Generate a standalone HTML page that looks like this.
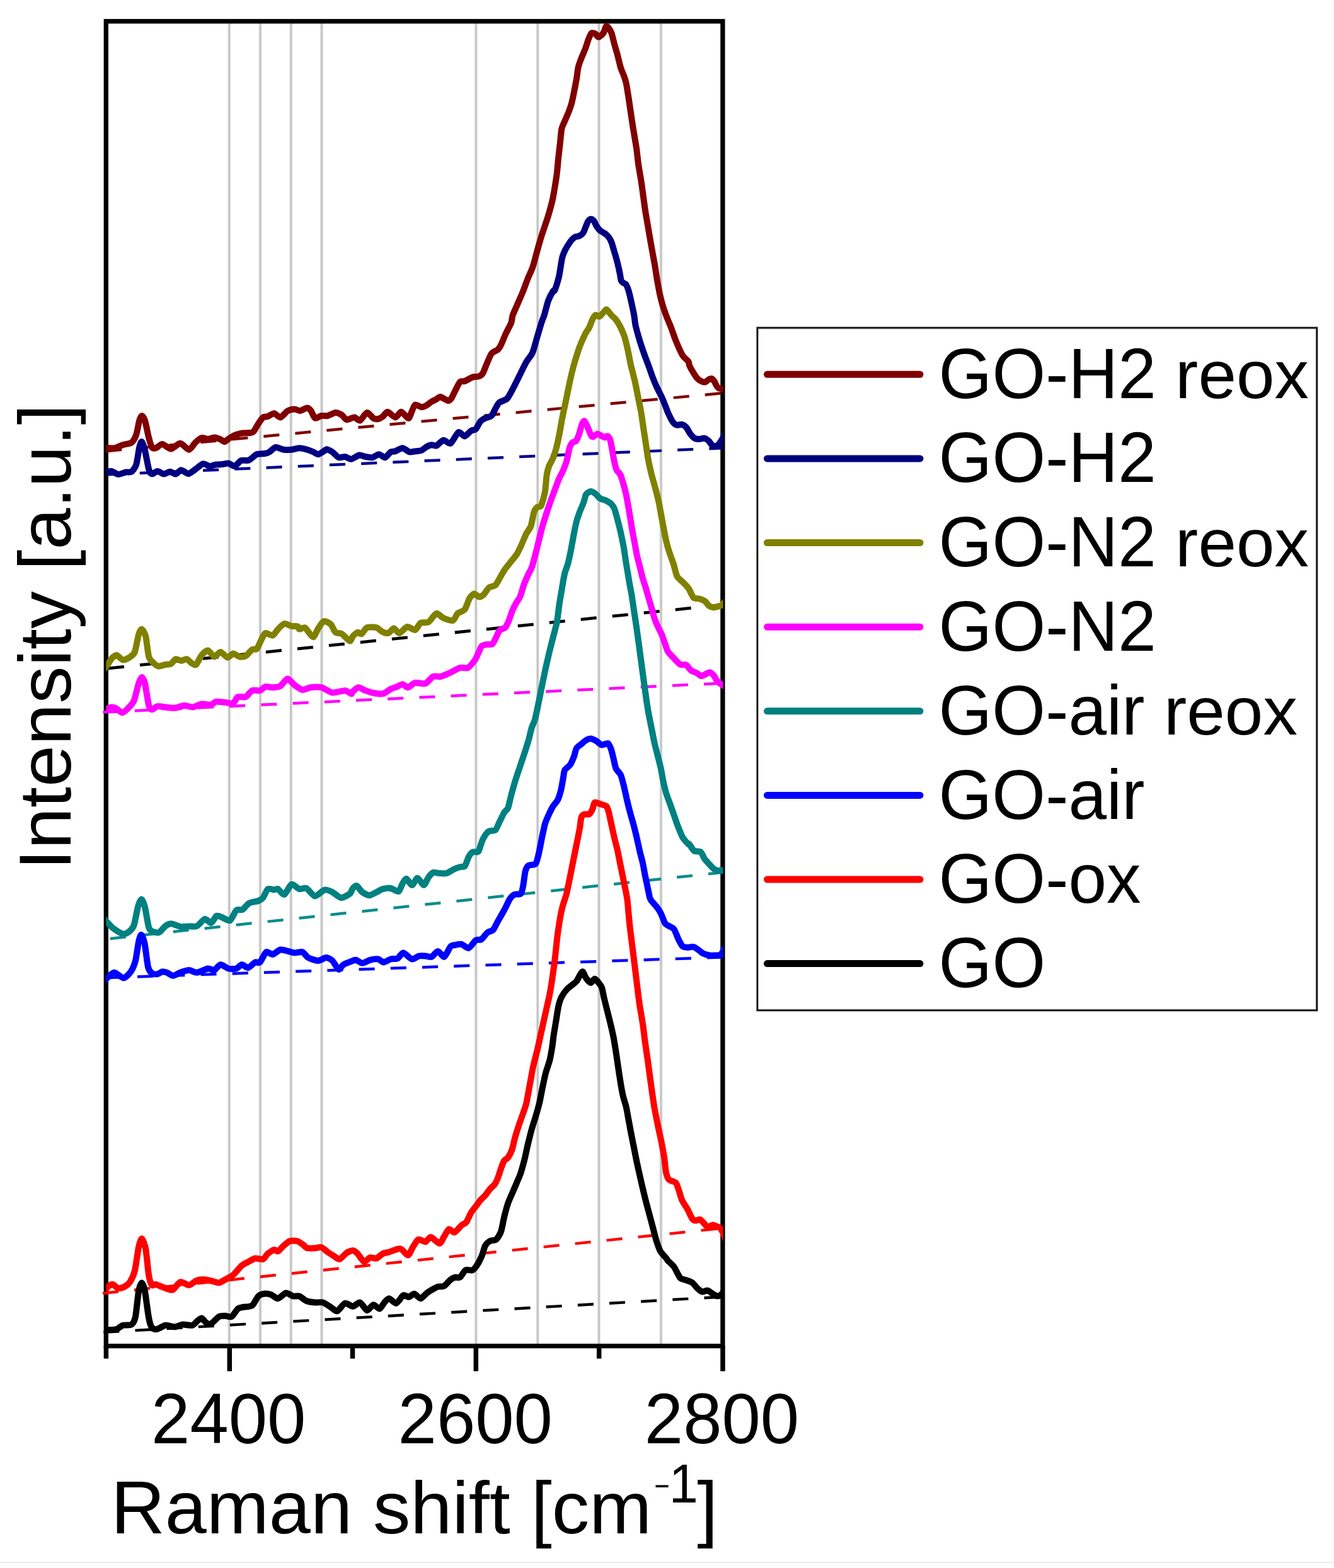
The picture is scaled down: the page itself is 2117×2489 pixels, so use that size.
<!DOCTYPE html>
<html lang="en"><head><meta charset="utf-8"><title>Raman spectra</title>
<style>html,body{margin:0;padding:0;background:#fff}svg{display:block}text{font-family:"Liberation Sans",sans-serif;fill:#000;font-kerning:none}</style></head>
<body>
<svg width="2117" height="2489" viewBox="0 0 2117 2489">
<rect width="2117" height="2489" fill="#fff"/>
<rect x="0" y="2479.4" width="2117" height="1.6" fill="#e9e9e9"/>
<g stroke="#e4e4e4" stroke-width="5" fill="none"><line x1="363.8" y1="33.8" x2="363.8" y2="2136.6"/><line x1="413" y1="33.8" x2="413" y2="2136.6"/><line x1="461.8" y1="33.8" x2="461.8" y2="2136.6"/><line x1="510.5" y1="33.8" x2="510.5" y2="2136.6"/><line x1="755.3" y1="33.8" x2="755.3" y2="2136.6"/><line x1="853.2" y1="33.8" x2="853.2" y2="2136.6"/><line x1="950.5" y1="33.8" x2="950.5" y2="2136.6"/><line x1="1049" y1="33.8" x2="1049" y2="2136.6"/></g>
<g stroke="#c2c2c2" stroke-width="2.6" fill="none"><line x1="363.8" y1="33.8" x2="363.8" y2="2136.6"/><line x1="413" y1="33.8" x2="413" y2="2136.6"/><line x1="461.8" y1="33.8" x2="461.8" y2="2136.6"/><line x1="510.5" y1="33.8" x2="510.5" y2="2136.6"/><line x1="755.3" y1="33.8" x2="755.3" y2="2136.6"/><line x1="853.2" y1="33.8" x2="853.2" y2="2136.6"/><line x1="950.5" y1="33.8" x2="950.5" y2="2136.6"/><line x1="1049" y1="33.8" x2="1049" y2="2136.6"/></g>
<rect x="168.3" y="33.8" width="978.6000000000001" height="2102.7999999999997" fill="none" stroke="#000" stroke-width="7.3"/>
<g stroke="#000" stroke-width="7.5" fill="none"><line x1="168.4" y1="2136.6" x2="168.4" y2="2156.6"/><line x1="364.3" y1="2136.6" x2="364.3" y2="2176.6"/><line x1="559.5" y1="2136.6" x2="559.5" y2="2156.6"/><line x1="755.3" y1="2136.6" x2="755.3" y2="2176.6"/><line x1="950.7" y1="2136.6" x2="950.7" y2="2156.6"/><line x1="1147" y1="2136.6" x2="1147" y2="2176.6"/></g>
<clipPath id="pc"><rect x="168.3" y="0" width="979.2" height="2200"/></clipPath>
<line x1="168.2" y1="716.2" x2="1147" y2="624" stroke="#800000" stroke-width="4.5" stroke-dasharray="25.1 25.15"/>
<path d="M160.0 711.2 C161.2 711.2 167.3 711.2 170.0 711.2 C172.7 711.2 179.5 711.8 182.5 711.2 C185.5 710.6 191.8 707.2 195.0 706.2 C198.2 705.2 206.3 704.4 208.8 702.5 C211.3 700.6 214.7 694.2 216.2 690.0 C217.7 685.8 220.1 671.1 221.2 667.5 C222.3 663.9 223.9 660.0 225.0 660.0 C226.1 660.0 228.7 663.3 230.0 667.5 C231.3 671.7 234.9 689.9 236.2 695.0 C237.5 700.1 239.8 708.1 241.2 710.0 C242.6 711.9 245.5 711.8 247.5 711.2 C249.5 710.6 254.7 704.8 257.5 705.0 C260.3 705.2 267.8 712.6 271.2 712.5 C274.6 712.4 282.7 703.6 286.2 703.8 C289.7 704.0 297.1 714.0 300.0 713.8 C302.9 713.6 307.6 704.8 310.0 702.5 C312.4 700.2 317.6 695.7 320.0 695.0 C322.4 694.3 327.5 697.1 330.0 697.0 C332.5 696.9 338.8 694.4 341.2 694.5 C343.6 694.6 348.2 696.7 350.0 697.5 C351.8 698.3 354.4 701.5 356.2 701.2 C358.0 700.9 362.7 696.3 365.0 695.0 C367.3 693.7 372.6 690.9 375.0 690.0 C377.4 689.1 382.3 687.9 385.0 687.5 C387.7 687.1 395.4 687.3 397.5 687.0 C399.6 686.7 401.0 686.7 402.5 685.0 C404.0 683.3 408.2 675.2 410.0 672.5 C411.8 669.8 415.7 663.9 417.5 662.5 C419.3 661.1 422.9 662.0 425.0 661.2 C427.1 660.4 432.6 656.0 435.0 656.2 C437.4 656.4 442.5 662.9 445.0 662.5 C447.5 662.1 453.5 654.1 456.2 652.5 C458.9 650.9 465.1 649.6 467.5 649.5 C469.9 649.4 473.8 652.2 476.2 652.0 C478.6 651.8 485.4 647.4 487.5 647.5 C489.6 647.6 492.3 650.5 493.8 652.5 C495.3 654.5 498.1 662.9 500.0 663.8 C501.9 664.7 507.6 660.5 510.0 660.0 C512.4 659.5 517.3 660.6 520.0 660.0 C522.7 659.4 529.8 655.1 532.5 655.0 C535.2 654.9 540.4 657.5 542.5 658.8 C544.6 660.1 547.6 665.8 550.0 666.2 C552.4 666.6 560.0 662.3 562.5 662.5 C565.0 662.7 568.8 668.4 571.2 667.5 C573.6 666.6 579.9 655.4 582.5 655.0 C585.1 654.6 590.4 662.6 592.5 663.8 C594.6 665.0 598.2 665.3 600.0 665.0 C601.8 664.7 605.7 662.5 607.5 661.2 C609.3 659.9 612.6 653.6 615.0 653.8 C617.4 654.0 625.0 662.5 627.5 662.5 C630.0 662.5 634.4 654.2 636.2 653.8 C638.0 653.4 641.0 657.6 642.5 658.8 C644.0 660.0 647.4 664.6 648.8 663.8 C650.2 663.0 652.6 655.1 653.8 652.5 C655.0 649.9 657.0 643.3 658.8 642.5 C660.6 641.7 666.7 646.0 668.8 646.2 C670.9 646.4 674.3 644.8 676.2 643.8 C678.1 642.8 683.0 638.7 685.0 637.5 C687.0 636.3 690.8 634.7 692.5 633.8 C694.2 632.9 696.6 629.7 698.8 630.0 C701.0 630.3 709.1 635.9 711.2 636.2 C713.3 636.5 714.8 634.4 716.2 632.5 C717.6 630.6 720.8 623.2 722.5 620.0 C724.2 616.8 728.2 608.0 730.0 606.2 C731.8 604.4 735.1 605.9 737.5 605.0 C739.9 604.1 747.3 599.7 750.0 598.8 C752.7 597.9 758.1 598.3 760.0 597.5 C761.9 596.7 764.7 594.9 766.2 592.5 C767.7 590.1 770.8 581.3 772.5 577.5 C774.2 573.7 777.9 563.9 780.0 561.2 C782.1 558.5 788.2 556.6 790.0 555.0 C791.8 553.4 793.5 550.5 795.0 547.5 C796.5 544.5 800.6 534.2 802.5 530.0 C804.4 525.8 809.8 516.1 811.2 512.5 C812.6 508.9 812.4 503.9 813.8 500.0 C815.2 496.1 820.6 484.5 822.5 480.0 C824.4 475.5 828.2 467.0 830.0 462.5 C831.8 458.0 835.7 447.0 837.5 442.5 C839.3 438.0 843.5 429.2 845.0 425.0 C846.5 420.8 848.7 412.3 850.0 407.5 C851.3 402.7 854.7 390.1 856.2 385.0 C857.7 379.9 860.8 370.1 862.5 365.0 C864.2 359.9 868.4 347.9 870.0 342.5 C871.6 337.1 875.0 325.1 876.2 320.0 C877.4 314.9 879.1 305.4 880.0 300.0 C880.9 294.6 883.1 281.0 883.8 275.0 C884.5 269.0 885.6 255.7 886.2 250.0 C886.8 244.3 888.2 232.9 888.8 227.5 C889.4 222.1 890.5 208.9 891.2 205.0 C891.9 201.1 893.6 198.3 895.0 195.0 C896.4 191.7 901.0 181.4 902.5 177.5 C904.0 173.6 906.5 166.4 907.5 162.5 C908.5 158.6 910.3 149.5 911.2 145.0 C912.1 140.5 914.2 129.5 915.0 125.0 C915.8 120.5 916.6 111.4 917.5 107.5 C918.4 103.6 921.1 96.1 922.5 92.5 C923.9 88.9 927.4 81.1 928.8 77.5 C930.2 73.9 932.6 65.5 933.8 62.5 C935.0 59.5 937.5 53.5 938.8 52.5 C940.1 51.5 943.7 53.0 945.0 53.8 C946.3 54.6 948.5 59.0 950.0 58.8 C951.5 58.6 956.0 54.6 957.5 52.5 C959.0 50.4 961.0 41.4 962.5 41.2 C964.0 41.0 968.5 47.7 970.0 51.2 C971.5 54.7 973.8 65.6 975.0 70.0 C976.2 74.4 978.8 83.0 980.0 87.5 C981.2 92.0 983.8 103.6 985.0 107.5 C986.2 111.4 988.9 117.0 990.0 120.0 C991.1 123.0 992.9 128.3 993.8 132.5 C994.7 136.7 996.6 149.3 997.5 155.0 C998.4 160.7 1000.3 174.0 1001.2 180.0 C1002.1 186.0 1003.9 198.4 1005.0 205.0 C1006.1 211.6 1009.0 228.4 1010.0 235.0 C1011.0 241.6 1012.1 253.7 1013.0 260.0 C1013.9 266.3 1016.5 281.2 1017.5 287.5 C1018.5 293.8 1020.2 306.5 1021.0 312.5 C1021.8 318.5 1023.5 331.2 1024.5 337.5 C1025.5 343.8 1028.1 358.4 1029.2 365.0 C1030.3 371.6 1032.8 385.9 1034.0 392.5 C1035.2 399.1 1037.9 413.7 1039.0 420.0 C1040.1 426.3 1042.0 439.3 1043.0 445.0 C1044.0 450.7 1046.1 462.4 1047.2 467.5 C1048.3 472.6 1051.1 483.0 1052.5 487.5 C1053.9 492.0 1057.3 501.1 1058.8 505.0 C1060.3 508.9 1063.5 516.1 1065.0 520.0 C1066.5 523.9 1069.7 533.6 1071.2 537.5 C1072.7 541.4 1076.0 549.2 1077.5 552.5 C1079.0 555.8 1082.0 562.4 1083.8 565.0 C1085.6 567.6 1091.3 572.0 1092.5 573.8 C1093.7 575.6 1093.2 578.0 1094.0 580.0 C1094.8 582.0 1098.0 587.8 1099.5 590.2 C1101.0 592.6 1104.7 598.6 1106.3 600.4 C1107.9 602.2 1111.6 604.5 1113.1 605.2 C1114.6 605.9 1117.8 606.8 1119.2 606.5 C1120.6 606.2 1123.4 603.0 1124.6 602.4 C1125.8 601.8 1128.3 600.8 1129.4 601.1 C1130.5 601.4 1132.6 603.9 1133.5 605.2 C1134.4 606.5 1136.1 610.7 1136.9 612.0 C1137.7 613.3 1139.2 615.5 1140.3 616.1 C1141.4 616.7 1144.9 617.1 1146.1 617.3 C1147.3 617.5 1150.0 618.0 1150.5 618.1" fill="none" stroke="#800000" stroke-width="10" stroke-linejoin="round" stroke-linecap="butt" clip-path="url(#pc)"/>
<line x1="171.5" y1="753.2" x2="1147" y2="711.2" stroke="#000090" stroke-width="4.5" stroke-dasharray="25.1 25.15"/>
<path d="M160.0 749.9 C161.2 749.8 167.9 749.0 170.0 748.8 C172.1 748.6 175.4 747.5 177.5 748.0 C179.6 748.5 184.8 752.8 187.5 753.0 C190.2 753.2 197.4 750.0 200.0 749.5 C202.6 749.0 206.9 750.2 208.8 748.8 C210.7 747.4 214.7 742.2 216.2 737.5 C217.7 732.8 220.1 714.4 221.2 710.0 C222.3 705.6 223.9 700.6 225.0 701.2 C226.1 701.8 228.7 709.7 230.0 715.0 C231.3 720.3 234.9 740.5 236.2 745.0 C237.5 749.5 239.5 752.1 241.2 752.5 C242.9 752.9 247.7 748.0 250.0 748.0 C252.3 748.0 257.6 752.4 260.0 752.5 C262.4 752.6 267.7 748.8 270.0 748.8 C272.3 748.8 276.7 752.8 278.8 752.5 C280.9 752.2 285.1 746.3 287.5 746.2 C289.9 746.1 296.1 752.1 298.8 752.0 C301.5 751.9 307.2 746.9 310.0 745.0 C312.8 743.1 319.8 736.8 322.5 736.2 C325.2 735.6 330.1 739.8 332.5 740.0 C334.9 740.2 340.1 737.9 342.5 737.5 C344.9 737.1 350.1 737.2 352.5 737.0 C354.9 736.8 360.1 735.1 362.5 735.5 C364.9 735.9 370.1 740.5 372.5 740.0 C374.9 739.5 379.8 732.3 382.5 731.2 C385.2 730.1 392.0 731.7 395.0 730.5 C398.0 729.3 404.5 722.5 407.5 721.2 C410.5 719.9 417.6 720.4 420.0 720.0 C422.4 719.6 425.4 718.7 427.5 717.5 C429.6 716.3 434.8 710.4 437.5 710.0 C440.2 709.6 447.0 713.3 450.0 713.8 C453.0 714.3 459.5 714.1 462.5 713.8 C465.5 713.5 472.0 711.2 475.0 711.2 C478.0 711.2 484.8 713.0 487.5 713.8 C490.2 714.6 495.4 716.6 497.5 717.5 C499.6 718.4 502.6 721.6 505.0 721.2 C507.4 720.8 515.7 714.7 517.5 713.8 C519.3 712.9 518.8 713.4 520.0 713.8 C521.2 714.2 525.4 716.0 527.5 717.5 C529.6 719.0 535.1 725.3 537.5 726.2 C539.9 727.1 545.1 724.7 547.5 725.0 C549.9 725.3 554.8 729.1 557.5 728.8 C560.2 728.5 567.3 723.0 570.0 722.5 C572.7 722.0 577.5 724.6 580.0 725.0 C582.5 725.4 588.7 726.7 591.2 726.2 C593.7 725.7 598.8 721.2 601.2 721.2 C603.6 721.2 608.9 726.6 611.2 726.2 C613.5 725.8 618.0 718.7 620.0 717.5 C622.0 716.3 625.2 717.0 627.5 716.2 C629.8 715.4 636.1 711.0 638.8 711.2 C641.5 711.4 647.5 716.9 650.0 717.5 C652.5 718.1 657.7 716.5 660.0 716.2 C662.3 715.9 666.7 715.9 668.8 715.0 C670.9 714.1 675.6 709.9 677.5 708.8 C679.4 707.7 683.2 706.4 685.0 706.2 C686.8 706.0 690.2 708.4 692.5 707.5 C694.8 706.6 701.1 699.2 703.8 698.8 C706.5 698.4 712.2 705.3 715.0 703.8 C717.8 702.3 724.8 687.6 727.5 686.2 C730.2 684.8 735.1 692.8 737.5 692.5 C739.9 692.2 745.4 685.2 747.5 683.8 C749.6 682.4 753.2 683.0 755.0 681.2 C756.8 679.4 760.7 670.9 762.5 668.8 C764.3 666.7 767.9 664.9 770.0 663.8 C772.1 662.7 777.9 662.1 780.0 660.0 C782.1 657.9 786.0 648.7 787.5 646.2 C789.0 643.7 790.4 640.4 792.5 638.8 C794.6 637.2 802.3 635.4 805.0 632.5 C807.7 629.6 812.6 619.5 815.0 615.0 C817.4 610.5 822.6 599.8 825.0 595.0 C827.4 590.2 832.6 579.2 835.0 575.0 C837.4 570.8 842.9 564.8 845.0 560.0 C847.1 555.2 850.7 541.0 852.5 535.0 C854.3 529.0 858.6 514.2 860.0 510.0 C861.4 505.8 862.6 503.9 863.8 500.0 C865.0 496.1 868.4 482.0 870.0 477.5 C871.6 473.0 876.3 464.4 877.5 462.5 C878.7 460.6 879.3 462.8 880.0 461.5 C880.7 460.2 882.7 454.3 883.6 451.5 C884.5 448.7 886.5 441.5 887.3 437.9 C888.1 434.3 889.4 425.3 890.0 421.6 C890.6 417.9 891.8 410.1 892.7 407.1 C893.6 404.1 896.0 398.6 897.2 396.2 C898.4 393.8 901.4 389.1 902.7 387.1 C904.0 385.1 906.9 381.2 908.1 379.9 C909.3 378.6 911.5 376.8 912.7 376.2 C913.9 375.6 916.9 375.3 918.1 374.9 C919.3 374.5 921.6 373.4 922.6 372.6 C923.6 371.8 925.4 369.7 926.3 368.1 C927.2 366.5 929.0 361.1 929.9 359.0 C930.8 356.9 932.5 352.2 933.5 350.8 C934.5 349.4 936.9 347.7 938.0 347.7 C939.1 347.7 941.6 349.6 942.6 350.8 C943.6 352.0 945.1 356.3 946.2 358.1 C947.3 359.9 950.4 364.1 951.7 365.4 C953.0 366.7 955.8 368.1 957.1 369.0 C958.4 369.9 961.3 371.5 962.5 372.6 C963.7 373.7 966.1 376.5 967.1 378.0 C968.1 379.5 969.9 383.3 970.7 385.3 C971.5 387.3 972.8 392.2 973.4 394.4 C974.0 396.6 975.4 401.1 976.1 403.4 C976.8 405.7 978.2 410.9 978.9 413.4 C979.6 415.9 981.0 421.7 981.6 424.3 C982.2 426.9 983.4 432.7 983.9 435.2 C984.4 437.7 985.1 443.6 985.7 445.2 C986.3 446.8 987.9 448.0 988.8 448.8 C989.7 449.6 992.4 450.2 993.4 451.5 C994.4 452.8 996.2 457.5 997.0 459.7 C997.8 461.9 999.1 467.3 999.7 469.7 C1000.3 472.1 1001.2 476.4 1002.0 480.0 C1002.8 483.6 1005.4 495.5 1006.2 500.0 C1007.0 504.5 1007.7 512.7 1008.8 517.5 C1009.9 522.3 1013.4 534.6 1015.0 540.0 C1016.6 545.4 1020.7 557.4 1022.5 562.5 C1024.3 567.6 1028.4 578.0 1030.0 582.5 C1031.6 587.0 1034.7 596.1 1036.2 600.0 C1037.7 603.9 1040.8 611.4 1042.5 615.0 C1044.2 618.6 1048.4 626.4 1050.0 630.0 C1051.6 633.6 1055.0 642.0 1056.2 645.0 C1057.4 648.0 1058.7 652.0 1060.0 654.8 C1061.3 657.6 1065.2 666.0 1066.8 668.4 C1068.4 670.8 1071.7 673.9 1073.6 674.6 C1075.5 675.3 1080.5 673.4 1082.4 673.9 C1084.3 674.4 1087.7 676.8 1089.3 678.6 C1090.9 680.4 1093.9 686.8 1095.4 688.8 C1096.9 690.8 1100.5 694.6 1102.2 695.6 C1103.9 696.6 1107.8 697.0 1109.7 697.0 C1111.6 697.0 1116.0 695.3 1117.8 695.6 C1119.6 695.9 1123.2 698.5 1124.6 699.7 C1126.0 700.9 1128.2 704.8 1129.4 705.9 C1130.6 707.0 1133.6 708.5 1134.8 708.6 C1136.0 708.7 1138.6 707.3 1139.6 706.5 C1140.6 705.7 1142.2 702.9 1143.0 701.8 C1143.8 700.7 1145.3 698.9 1146.1 697.3 C1146.9 695.7 1149.4 689.8 1149.8 688.8" fill="none" stroke="#000080" stroke-width="10" stroke-linejoin="round" stroke-linecap="butt" clip-path="url(#pc)"/>
<line x1="172" y1="1060.9" x2="1147" y2="960" stroke="#000000" stroke-width="4.8" stroke-dasharray="25.1 25.15"/>
<path d="M160.0 1068.2 C161.2 1066.8 167.9 1059.0 170.0 1056.2 C172.1 1053.4 175.7 1046.9 177.5 1045.0 C179.3 1043.1 182.9 1039.7 185.0 1040.0 C187.1 1040.3 192.6 1047.0 195.0 1047.5 C197.4 1048.0 202.7 1045.3 205.0 1043.8 C207.3 1042.3 212.0 1039.4 213.8 1035.0 C215.6 1030.6 218.7 1011.8 220.0 1007.5 C221.3 1003.2 223.7 998.5 225.0 998.8 C226.3 999.1 229.9 1004.8 231.2 1010.0 C232.5 1015.2 234.8 1037.6 236.2 1042.5 C237.6 1047.4 240.7 1049.4 242.5 1051.2 C244.3 1053.0 248.8 1057.0 251.2 1057.5 C253.6 1058.0 260.1 1055.4 262.5 1055.0 C264.9 1054.6 269.2 1054.9 271.2 1053.8 C273.2 1052.7 276.8 1046.8 278.8 1046.2 C280.8 1045.6 285.4 1048.8 287.5 1048.8 C289.6 1048.8 294.2 1045.8 296.2 1046.2 C298.2 1046.6 302.0 1051.4 303.8 1052.5 C305.6 1053.6 309.3 1056.5 311.2 1055.0 C313.1 1053.5 317.7 1042.7 320.0 1040.0 C322.3 1037.3 327.6 1032.2 330.0 1032.5 C332.4 1032.8 337.6 1042.2 340.0 1042.5 C342.4 1042.8 347.5 1034.8 350.0 1035.0 C352.5 1035.2 358.8 1043.5 361.2 1043.8 C363.6 1044.1 367.7 1037.7 370.0 1037.5 C372.3 1037.3 377.6 1042.1 380.0 1042.5 C382.4 1042.9 387.6 1042.6 390.0 1041.2 C392.4 1039.8 397.9 1032.5 400.0 1031.2 C402.1 1029.9 405.7 1031.9 407.5 1030.0 C409.3 1028.1 413.4 1018.0 415.0 1015.0 C416.6 1012.0 419.1 1005.7 421.2 1005.0 C423.3 1004.3 430.1 1009.5 432.5 1008.8 C434.9 1008.1 439.0 1001.1 441.2 998.8 C443.4 996.5 448.6 990.6 451.2 990.0 C453.8 989.4 459.9 993.3 462.5 993.8 C465.1 994.3 471.0 993.9 472.5 994.5 C474.0 995.1 473.6 998.6 475.0 998.8 C476.4 999.0 482.0 995.6 483.8 996.2 C485.6 996.8 488.4 1002.0 490.0 1003.8 C491.6 1005.6 495.7 1012.0 497.5 1011.2 C499.3 1010.4 503.0 1000.5 505.0 997.5 C507.0 994.5 511.4 987.0 513.8 986.2 C516.2 985.4 522.8 989.1 525.0 991.2 C527.2 993.3 530.4 1002.0 532.5 1003.8 C534.6 1005.6 539.8 1004.6 542.5 1006.2 C545.2 1007.8 552.9 1017.0 555.0 1017.5 C557.1 1018.0 558.5 1011.6 560.0 1010.0 C561.5 1008.4 565.8 1004.3 567.5 1003.8 C569.2 1003.3 572.0 1007.1 573.8 1006.2 C575.6 1005.3 579.7 997.4 582.5 996.2 C585.3 995.0 594.7 995.4 597.5 996.2 C600.3 997.0 604.0 1001.4 606.2 1002.5 C608.4 1003.6 613.9 1005.6 616.2 1005.0 C618.5 1004.4 622.9 997.5 625.0 997.5 C627.1 997.5 631.3 1005.3 633.8 1005.0 C636.3 1004.7 643.2 995.6 646.2 995.0 C649.2 994.4 656.2 1000.7 658.8 1000.0 C661.4 999.3 665.0 990.3 667.5 988.8 C670.0 987.3 677.0 989.3 680.0 987.5 C683.0 985.7 689.6 974.6 692.5 973.8 C695.4 973.0 700.6 979.9 703.8 981.2 C707.0 982.5 716.1 985.9 718.8 985.0 C721.5 984.1 724.0 975.9 726.2 973.8 C728.4 971.7 735.2 970.4 737.5 967.5 C739.8 964.6 743.2 953.0 745.0 950.0 C746.8 947.0 750.7 942.8 752.5 942.5 C754.3 942.2 758.2 947.3 760.0 947.5 C761.8 947.7 765.6 945.6 767.5 943.8 C769.4 942.0 774.0 934.3 776.2 932.5 C778.4 930.7 784.1 930.8 786.2 928.8 C788.3 926.8 792.0 919.2 793.8 916.2 C795.6 913.2 799.3 906.6 801.2 903.8 C803.1 901.0 807.7 895.4 810.0 892.5 C812.3 889.6 817.9 883.3 820.0 880.0 C822.1 876.7 825.7 868.9 827.5 865.0 C829.3 861.1 833.2 851.1 835.0 847.5 C836.8 843.9 841.0 839.2 842.5 835.0 C844.0 830.8 846.3 816.1 847.5 812.5 C848.7 808.9 851.1 806.2 852.5 805.0 C853.9 803.8 857.3 805.5 858.8 802.5 C860.3 799.5 864.0 785.7 865.0 780.0 C866.0 774.3 866.8 759.8 867.5 755.0 C868.2 750.2 870.0 743.3 871.2 740.0 C872.4 736.7 876.1 730.8 877.5 727.5 C878.9 724.2 881.3 717.0 882.5 712.5 C883.7 708.0 886.3 696.0 887.5 690.0 C888.7 684.0 891.1 669.4 892.5 662.5 C893.9 655.6 897.3 639.7 898.8 632.5 C900.3 625.3 903.5 609.1 905.0 602.5 C906.5 595.9 909.4 583.8 911.2 577.5 C913.0 571.2 917.9 555.7 920.0 550.0 C922.1 544.3 927.0 533.6 928.8 530.0 C930.6 526.4 933.7 522.7 935.0 520.0 C936.3 517.3 938.8 509.9 940.0 507.5 C941.2 505.1 943.7 500.6 945.0 500.0 C946.3 499.4 949.7 503.0 951.2 502.5 C952.7 502.0 956.1 497.6 957.5 496.2 C958.9 494.8 961.0 490.7 962.5 491.2 C964.0 491.7 968.2 498.0 970.0 500.0 C971.8 502.0 975.7 505.1 977.5 507.5 C979.3 509.9 983.4 516.7 985.0 520.0 C986.6 523.3 989.9 530.8 991.2 535.0 C992.5 539.2 995.0 549.6 996.2 555.0 C997.4 560.4 999.8 574.0 1001.2 580.0 C1002.6 586.0 1006.1 599.0 1007.5 605.0 C1008.9 611.0 1011.3 624.0 1012.5 630.0 C1013.7 636.0 1016.5 649.0 1017.5 655.0 C1018.5 661.0 1020.3 674.0 1021.2 680.0 C1022.1 686.0 1024.1 699.0 1025.0 705.0 C1025.9 711.0 1027.7 724.3 1028.8 730.0 C1029.9 735.7 1032.5 747.1 1033.8 752.5 C1035.1 757.9 1038.7 769.9 1040.0 775.0 C1041.3 780.1 1043.9 790.2 1045.0 795.0 C1046.1 799.8 1047.9 810.2 1048.8 815.0 C1049.7 819.8 1051.5 829.6 1052.5 835.0 C1053.5 840.4 1056.3 854.9 1057.5 860.0 C1058.7 865.1 1061.1 873.3 1062.5 877.5 C1063.9 881.7 1067.4 890.5 1068.8 895.0 C1070.2 899.5 1072.7 911.3 1074.5 914.8 C1076.3 918.3 1081.9 922.2 1084.1 924.5 C1086.3 926.8 1090.8 931.2 1092.8 934.1 C1094.8 937.0 1098.4 946.6 1100.5 948.6 C1102.6 950.6 1107.9 949.8 1110.1 950.5 C1112.3 951.2 1116.9 953.0 1118.8 954.4 C1120.7 955.8 1124.0 960.9 1125.6 962.1 C1127.2 963.3 1130.7 964.1 1132.3 964.2 C1133.9 964.3 1137.7 963.1 1139.1 962.8 C1140.5 962.5 1142.9 961.8 1143.9 961.3 C1144.9 960.8 1146.3 959.8 1147.3 958.7 C1148.3 957.6 1152.0 953.2 1152.6 952.4" fill="none" stroke="#808000" stroke-width="10" stroke-linejoin="round" stroke-linecap="butt" clip-path="url(#pc)"/>
<line x1="163.4" y1="1130.6" x2="1147" y2="1084.5" stroke="#ff00ff" stroke-width="4.5" stroke-dasharray="25.1 25.15"/>
<path d="M160.0 1128.8 C160.6 1128.6 162.9 1127.8 165.0 1127.0 C167.1 1126.2 175.1 1122.7 177.5 1122.5 C179.9 1122.3 183.0 1124.0 185.0 1125.0 C187.0 1126.0 191.7 1131.2 193.8 1131.2 C195.9 1131.2 200.3 1127.2 202.5 1125.0 C204.7 1122.8 210.4 1117.3 212.5 1112.5 C214.6 1107.7 218.5 1089.5 220.0 1085.0 C221.5 1080.5 223.8 1075.0 225.0 1075.0 C226.2 1075.0 228.7 1079.6 230.0 1085.0 C231.3 1090.4 234.9 1115.1 236.2 1120.0 C237.5 1124.9 239.5 1126.1 241.2 1126.2 C242.9 1126.3 247.4 1121.6 250.0 1121.2 C252.6 1120.8 259.2 1122.2 262.5 1122.5 C265.8 1122.8 273.9 1124.1 277.5 1123.8 C281.1 1123.5 289.1 1120.2 292.5 1120.0 C295.9 1119.8 302.9 1122.8 306.2 1122.5 C309.5 1122.2 316.5 1117.9 320.0 1117.5 C323.5 1117.1 332.3 1119.2 335.0 1118.8 C337.7 1118.4 339.8 1114.3 342.5 1113.8 C345.2 1113.3 354.2 1114.7 357.5 1115.0 C360.8 1115.3 367.6 1117.3 370.0 1116.2 C372.4 1115.1 375.1 1107.4 377.5 1106.2 C379.9 1105.0 387.3 1107.4 390.0 1106.2 C392.7 1105.0 397.3 1097.4 400.0 1096.2 C402.7 1095.0 410.0 1096.9 412.5 1096.2 C415.0 1095.5 418.8 1090.6 421.2 1090.0 C423.6 1089.4 429.6 1091.3 432.5 1091.2 C435.4 1091.1 442.2 1090.4 445.0 1088.8 C447.8 1087.2 453.5 1077.7 456.2 1077.5 C458.9 1077.3 464.6 1085.4 467.5 1087.5 C470.4 1089.6 477.0 1094.6 480.0 1095.0 C483.0 1095.4 488.9 1091.7 492.5 1091.2 C496.1 1090.7 505.8 1090.2 510.0 1091.2 C514.2 1092.2 523.0 1098.9 527.5 1099.5 C532.0 1100.1 543.9 1096.0 547.5 1096.2 C551.1 1096.4 556.0 1101.0 557.5 1101.2 C559.0 1101.4 558.6 1098.7 560.0 1097.5 C561.4 1096.3 566.4 1091.4 568.8 1091.2 C571.2 1091.0 577.2 1095.1 580.0 1096.2 C582.8 1097.3 589.2 1099.4 592.5 1100.0 C595.8 1100.6 604.2 1101.9 607.5 1101.2 C610.8 1100.5 617.3 1095.1 620.0 1093.8 C622.7 1092.5 627.7 1090.9 630.0 1090.0 C632.3 1089.1 636.7 1086.1 638.8 1086.2 C640.9 1086.3 645.1 1091.5 647.5 1091.2 C649.9 1090.9 655.5 1084.5 658.8 1083.8 C662.1 1083.1 671.6 1086.2 675.0 1085.0 C678.4 1083.8 684.5 1075.1 687.5 1073.8 C690.5 1072.5 696.7 1074.6 700.0 1073.8 C703.3 1073.0 711.4 1069.2 715.0 1067.5 C718.6 1065.8 726.7 1060.9 730.0 1060.0 C733.3 1059.1 739.6 1061.5 742.5 1060.0 C745.4 1058.5 751.7 1050.5 753.8 1047.5 C755.9 1044.5 758.7 1037.2 760.0 1034.6 C761.3 1032.0 763.1 1026.9 764.5 1025.5 C765.9 1024.1 769.3 1023.6 771.3 1023.2 C773.3 1022.8 779.6 1023.5 781.5 1022.1 C783.4 1020.7 785.8 1014.5 787.2 1011.9 C788.6 1009.3 791.1 1002.4 792.9 1000.5 C794.7 998.6 800.2 997.9 802.0 996.0 C803.8 994.1 806.2 988.0 807.6 984.7 C809.0 981.4 811.9 972.1 813.3 968.8 C814.7 965.5 817.5 960.2 819.0 957.5 C820.5 954.8 824.3 949.6 825.8 946.1 C827.3 942.6 829.9 932.1 831.4 928.0 C832.9 923.9 836.7 915.4 838.2 912.1 C839.7 908.8 842.5 904.6 843.9 900.8 C845.3 897.0 848.2 885.6 849.6 880.4 C851.0 875.2 853.8 863.1 855.2 857.7 C856.6 852.3 859.5 839.9 860.9 835.0 C862.3 830.1 865.1 821.5 866.6 816.9 C868.1 812.3 871.8 801.1 873.4 796.5 C875.0 791.9 878.6 782.7 880.2 778.3 C881.8 773.9 885.4 764.0 887.0 760.2 C888.6 756.4 892.3 750.1 893.8 746.6 C895.3 743.1 898.3 735.1 899.5 730.7 C900.7 726.3 902.9 713.7 904.0 710.3 C905.1 706.9 907.3 703.6 908.5 702.4 C909.7 701.2 913.0 701.6 914.2 700.1 C915.4 698.6 917.6 693.0 918.7 689.9 C919.8 686.8 922.3 676.6 923.3 674.0 C924.3 671.4 926.2 667.9 927.3 668.3 C928.4 668.7 931.0 674.7 932.3 677.4 C933.6 680.1 936.9 689.1 938.0 691.0 C939.1 692.9 940.2 693.6 941.4 693.3 C942.6 693.0 946.6 688.9 948.2 688.8 C949.8 688.7 953.6 691.5 955.0 692.2 C956.4 692.9 958.4 694.4 959.5 694.4 C960.6 694.4 963.0 691.6 964.1 692.2 C965.2 692.8 967.7 696.0 968.6 699.0 C969.5 702.0 971.2 712.8 972.0 717.1 C972.8 721.4 974.6 731.7 975.4 735.2 C976.2 738.7 977.7 744.4 978.8 746.6 C979.9 748.8 983.3 751.0 984.5 753.4 C985.7 755.8 987.9 763.2 989.0 767.0 C990.1 770.8 992.6 780.7 993.6 785.1 C994.6 789.5 996.2 798.7 997.0 803.3 C997.8 807.9 999.6 818.8 1000.4 823.7 C1001.2 828.6 1003.0 839.5 1003.8 844.1 C1004.6 848.7 1006.4 857.8 1007.2 862.2 C1008.0 866.6 1009.7 876.0 1010.6 880.4 C1011.5 884.8 1014.0 894.2 1015.1 898.5 C1016.2 902.8 1018.4 912.2 1019.6 916.6 C1020.8 921.0 1024.1 930.7 1025.3 934.8 C1026.5 938.9 1028.7 946.9 1029.8 950.7 C1030.9 954.5 1033.3 962.7 1034.4 966.5 C1035.5 970.3 1037.7 978.9 1038.9 982.4 C1040.1 985.9 1043.2 993.0 1044.6 996.0 C1046.0 999.0 1048.8 1004.0 1050.2 1007.3 C1051.6 1010.6 1054.7 1019.9 1055.9 1023.2 C1057.1 1026.5 1058.4 1031.8 1060.0 1034.4 C1061.6 1037.0 1067.3 1042.6 1069.6 1045.0 C1071.9 1047.4 1077.0 1053.3 1079.3 1054.6 C1081.6 1055.9 1086.8 1054.4 1088.9 1055.6 C1091.0 1056.8 1094.6 1062.8 1096.6 1064.3 C1098.6 1065.8 1103.3 1067.1 1105.3 1068.1 C1107.3 1069.1 1111.3 1072.8 1113.0 1073.0 C1114.7 1073.2 1118.2 1070.8 1119.8 1070.1 C1121.4 1069.4 1124.9 1066.9 1126.5 1067.2 C1128.1 1067.5 1132.0 1071.5 1133.3 1073.0 C1134.6 1074.5 1136.1 1078.3 1137.1 1079.7 C1138.1 1081.1 1140.8 1083.6 1142.0 1084.5 C1143.2 1085.4 1145.5 1086.6 1146.8 1087.4 C1148.1 1088.2 1151.9 1090.8 1152.6 1091.3" fill="none" stroke="#ff00ff" stroke-width="10" stroke-linejoin="round" stroke-linecap="butt" clip-path="url(#pc)"/>
<line x1="174.8" y1="1489.9" x2="1147" y2="1384.7" stroke="#0a8c8c" stroke-width="4.5" stroke-dasharray="25.1 25.15"/>
<path d="M160.0 1453.8 C161.2 1455.0 167.6 1461.4 170.0 1463.8 C172.4 1466.2 177.0 1471.6 180.0 1473.8 C183.0 1476.0 192.0 1481.9 195.0 1482.5 C198.0 1483.1 202.9 1480.4 205.0 1478.8 C207.1 1477.2 210.8 1473.5 212.5 1468.8 C214.2 1464.1 217.4 1445.0 218.8 1440.0 C220.2 1435.0 223.2 1427.5 224.5 1427.5 C225.8 1427.5 228.6 1434.6 230.0 1440.0 C231.4 1445.4 234.7 1467.8 236.2 1472.5 C237.7 1477.2 240.5 1477.9 242.5 1478.8 C244.5 1479.7 250.1 1481.1 252.5 1480.0 C254.9 1478.9 260.3 1471.7 262.5 1470.0 C264.7 1468.3 269.1 1466.3 271.2 1466.2 C273.3 1466.1 278.0 1468.2 280.0 1468.8 C282.0 1469.4 285.1 1471.0 287.5 1471.2 C289.9 1471.4 297.0 1470.6 300.0 1470.5 C303.0 1470.4 309.5 1471.4 312.5 1470.0 C315.5 1468.6 322.3 1459.4 325.0 1458.8 C327.7 1458.2 332.7 1465.6 335.0 1465.0 C337.3 1464.4 341.7 1454.9 343.8 1453.8 C345.9 1452.7 350.0 1455.3 352.5 1456.2 C355.0 1457.1 362.3 1462.5 365.0 1461.2 C367.7 1459.9 372.6 1447.1 375.0 1445.0 C377.4 1442.9 382.6 1445.1 385.0 1443.8 C387.4 1442.5 392.0 1435.5 395.0 1433.8 C398.0 1432.1 407.3 1431.1 410.0 1430.0 C412.7 1428.9 415.7 1427.3 417.5 1425.0 C419.3 1422.7 422.9 1412.7 425.0 1411.2 C427.1 1409.7 433.1 1412.5 435.0 1412.5 C436.9 1412.5 439.3 1410.3 441.2 1411.2 C443.1 1412.1 448.6 1420.9 451.2 1420.0 C453.8 1419.1 459.6 1404.9 462.5 1403.8 C465.4 1402.7 472.2 1410.5 475.0 1411.2 C477.8 1411.9 483.2 1408.6 486.2 1410.0 C489.2 1411.4 496.5 1422.2 500.0 1422.5 C503.5 1422.8 511.7 1413.3 515.0 1412.5 C518.3 1411.7 524.4 1414.7 527.5 1416.2 C530.6 1417.7 537.9 1424.7 541.2 1425.0 C544.5 1425.3 552.7 1420.6 555.0 1418.8 C557.3 1417.0 558.7 1411.5 560.0 1410.0 C561.3 1408.5 564.4 1405.5 566.2 1406.2 C568.0 1406.9 572.6 1414.4 575.0 1416.2 C577.4 1418.0 583.5 1421.2 586.2 1421.2 C588.9 1421.2 594.9 1417.4 597.5 1416.2 C600.1 1415.0 604.8 1411.9 607.5 1411.2 C610.2 1410.5 617.0 1409.5 620.0 1410.0 C623.0 1410.5 630.2 1415.9 632.5 1415.0 C634.8 1414.1 637.3 1404.9 638.8 1402.5 C640.3 1400.1 643.2 1394.7 645.0 1395.0 C646.8 1395.3 651.7 1405.1 653.8 1405.0 C655.9 1404.9 660.3 1393.8 662.5 1393.8 C664.7 1393.8 670.4 1405.2 672.5 1405.0 C674.6 1404.8 678.2 1394.9 680.0 1392.5 C681.8 1390.1 685.4 1385.8 687.5 1385.0 C689.6 1384.2 694.9 1386.1 697.5 1386.2 C700.1 1386.3 706.1 1386.9 708.8 1386.2 C711.5 1385.5 717.5 1381.2 720.0 1380.0 C722.5 1378.8 727.9 1376.8 730.0 1376.2 C732.1 1375.6 735.8 1376.9 737.5 1375.0 C739.2 1373.1 742.3 1362.7 743.8 1360.0 C745.3 1357.3 748.4 1353.4 750.0 1352.5 C751.6 1351.6 756.3 1352.8 757.5 1352.5 C758.7 1352.2 759.0 1352.4 760.0 1350.0 C761.0 1347.6 764.4 1336.1 766.2 1332.5 C768.0 1328.9 772.6 1321.8 775.0 1320.0 C777.4 1318.2 784.1 1319.3 786.2 1317.5 C788.3 1315.7 790.8 1308.3 792.5 1305.0 C794.2 1301.7 798.4 1292.7 800.0 1290.0 C801.6 1287.3 804.9 1285.8 806.2 1282.5 C807.5 1279.2 809.8 1267.6 811.2 1262.5 C812.6 1257.4 815.8 1245.4 817.5 1240.0 C819.2 1234.6 823.2 1222.9 825.0 1217.5 C826.8 1212.1 830.8 1200.1 832.5 1195.0 C834.2 1189.9 837.4 1179.8 838.8 1175.0 C840.2 1170.2 842.6 1158.9 843.8 1155.0 C845.0 1151.1 847.6 1146.7 848.8 1142.5 C850.0 1138.3 852.6 1125.7 853.8 1120.0 C855.0 1114.3 857.5 1101.6 858.8 1095.0 C860.1 1088.4 863.5 1071.9 865.0 1065.0 C866.5 1058.1 869.7 1043.8 871.2 1037.5 C872.7 1031.2 876.0 1018.5 877.5 1012.5 C879.0 1006.5 882.6 993.8 883.8 987.5 C885.0 981.2 886.5 966.9 887.5 960.0 C888.5 953.1 891.5 936.0 892.5 930.0 C893.5 924.0 895.2 914.2 896.2 910.0 C897.2 905.8 900.0 899.5 901.2 895.0 C902.4 890.5 905.0 878.5 906.2 872.5 C907.4 866.5 910.1 850.4 911.2 845.0 C912.3 839.6 913.9 831.4 915.0 827.5 C916.1 823.6 918.7 816.1 920.0 812.5 C921.3 808.9 925.0 800.8 926.2 797.5 C927.4 794.2 928.6 787.1 930.0 785.0 C931.4 782.9 935.7 780.1 937.5 780.0 C939.3 779.9 943.2 782.5 945.0 783.8 C946.8 785.1 950.4 789.9 952.5 791.2 C954.6 792.5 960.4 793.9 962.5 795.0 C964.6 796.1 968.5 798.5 970.0 800.0 C971.5 801.5 973.8 804.5 975.0 807.5 C976.2 810.5 978.8 820.5 980.0 825.0 C981.2 829.5 983.8 839.6 985.0 845.0 C986.2 850.4 988.9 864.0 990.0 870.0 C991.1 876.0 992.7 888.4 993.8 895.0 C994.9 901.6 997.8 919.0 998.8 925.0 C999.8 931.0 1001.6 939.6 1002.5 945.0 C1003.4 950.4 1005.3 964.0 1006.2 970.0 C1007.1 976.0 1009.1 988.7 1010.0 995.0 C1010.9 1001.3 1012.9 1015.9 1013.8 1022.5 C1014.7 1029.1 1016.6 1043.4 1017.5 1050.0 C1018.4 1056.6 1020.3 1070.9 1021.2 1077.5 C1022.1 1084.1 1024.1 1098.7 1025.0 1105.0 C1025.9 1111.3 1027.7 1124.0 1028.8 1130.0 C1029.9 1136.0 1032.6 1149.0 1033.8 1155.0 C1035.0 1161.0 1037.6 1174.6 1038.8 1180.0 C1040.0 1185.4 1042.6 1195.2 1043.8 1200.0 C1045.0 1204.8 1047.8 1215.2 1048.8 1220.0 C1049.8 1224.8 1051.5 1235.2 1052.5 1240.0 C1053.5 1244.8 1056.1 1255.5 1057.5 1260.0 C1058.9 1264.5 1062.3 1273.3 1063.8 1277.5 C1065.3 1281.7 1068.5 1290.8 1070.0 1295.0 C1071.5 1299.2 1074.5 1308.3 1076.2 1312.5 C1077.9 1316.7 1081.8 1326.7 1083.8 1330.0 C1085.8 1333.3 1091.3 1338.8 1092.5 1340.0 C1093.7 1341.2 1092.7 1338.7 1093.8 1340.0 C1094.9 1341.3 1099.3 1349.1 1101.5 1350.6 C1103.7 1352.1 1110.1 1351.0 1112.1 1352.5 C1114.1 1354.0 1116.3 1360.8 1117.9 1363.1 C1119.5 1365.4 1123.8 1369.8 1125.6 1371.8 C1127.4 1373.8 1131.6 1378.3 1133.3 1379.5 C1135.0 1380.7 1138.4 1381.7 1140.0 1381.9 C1141.6 1382.1 1145.1 1381.7 1146.8 1381.5 C1148.5 1381.3 1153.6 1380.6 1154.5 1380.5" fill="none" stroke="#008080" stroke-width="10" stroke-linejoin="round" stroke-linecap="butt" clip-path="url(#pc)"/>
<line x1="167.8" y1="1552.1" x2="1147" y2="1519.5" stroke="#0000ff" stroke-width="4.5" stroke-dasharray="25.1 25.15"/>
<path d="M160.0 1560.3 C161.2 1559.4 167.5 1554.5 170.0 1552.5 C172.5 1550.5 178.1 1543.8 181.2 1543.8 C184.3 1543.8 193.0 1552.7 196.2 1552.5 C199.4 1552.3 205.2 1545.8 207.5 1542.5 C209.8 1539.2 213.5 1530.7 215.0 1525.0 C216.5 1519.3 218.9 1499.9 220.0 1495.0 C221.1 1490.1 223.1 1483.5 224.2 1483.8 C225.3 1484.1 228.2 1491.4 229.5 1497.5 C230.8 1503.6 233.6 1529.3 235.0 1535.0 C236.4 1540.7 239.4 1543.7 241.2 1545.0 C243.0 1546.3 248.0 1546.5 250.0 1546.2 C252.0 1545.9 255.7 1542.8 257.5 1542.5 C259.3 1542.2 262.9 1543.0 265.0 1543.8 C267.1 1544.6 272.5 1548.8 275.0 1548.8 C277.5 1548.8 283.2 1544.9 286.2 1543.8 C289.2 1542.7 296.8 1540.0 300.0 1540.0 C303.2 1540.0 308.9 1544.1 312.5 1543.8 C316.1 1543.5 326.7 1538.0 330.0 1537.5 C333.3 1537.0 337.6 1540.8 340.0 1540.0 C342.4 1539.2 347.3 1531.5 350.0 1531.2 C352.7 1530.9 359.5 1536.7 362.5 1537.5 C365.5 1538.3 372.4 1538.3 375.0 1537.5 C377.6 1536.7 381.5 1531.4 383.8 1531.2 C386.1 1531.0 391.3 1536.6 393.8 1536.2 C396.3 1535.8 402.8 1528.5 405.0 1527.5 C407.2 1526.5 410.4 1529.5 412.5 1527.5 C414.6 1525.5 420.1 1512.7 422.5 1511.2 C424.9 1509.7 429.8 1515.4 432.5 1515.0 C435.2 1514.6 442.0 1508.1 445.0 1507.5 C448.0 1506.9 454.8 1509.4 457.5 1510.0 C460.2 1510.6 464.8 1512.4 467.5 1512.5 C470.2 1512.6 477.4 1510.3 480.0 1511.2 C482.6 1512.1 485.8 1518.3 488.8 1520.0 C491.8 1521.7 501.6 1525.0 505.0 1525.0 C508.4 1525.0 514.8 1520.0 517.5 1520.0 C520.2 1520.0 525.1 1522.7 527.5 1525.0 C529.9 1527.3 535.4 1538.1 537.5 1538.8 C539.6 1539.5 542.3 1532.9 545.0 1531.2 C547.7 1529.5 557.6 1525.9 560.0 1525.0 C562.4 1524.1 563.2 1523.3 565.0 1523.8 C566.8 1524.3 572.3 1528.8 575.0 1528.8 C577.7 1528.8 584.5 1524.6 587.5 1523.8 C590.5 1523.0 597.4 1522.1 600.0 1522.5 C602.6 1522.9 606.4 1527.5 608.8 1527.5 C611.2 1527.5 617.3 1523.3 620.0 1522.5 C622.7 1521.7 628.8 1522.4 631.2 1521.2 C633.6 1520.0 637.3 1512.3 640.0 1512.5 C642.7 1512.7 650.8 1521.9 653.8 1522.5 C656.8 1523.1 662.5 1518.1 665.0 1517.5 C667.5 1516.9 672.6 1517.3 675.0 1517.5 C677.4 1517.7 682.6 1519.7 685.0 1518.8 C687.4 1517.9 692.6 1510.0 695.0 1510.0 C697.4 1510.0 702.6 1519.7 705.0 1518.8 C707.4 1517.9 712.9 1504.8 715.0 1502.5 C717.1 1500.2 720.4 1500.4 722.5 1500.0 C724.6 1499.6 729.9 1498.2 732.5 1498.8 C735.1 1499.4 741.1 1505.8 743.8 1505.0 C746.5 1504.2 752.6 1494.2 755.0 1492.5 C757.4 1490.8 761.5 1492.7 763.8 1491.2 C766.1 1489.7 771.6 1481.8 773.8 1480.0 C776.0 1478.2 780.6 1478.3 782.5 1476.2 C784.4 1474.1 787.9 1466.2 790.0 1462.5 C792.1 1458.8 797.7 1449.2 800.0 1445.0 C802.3 1440.8 806.9 1430.5 808.8 1427.5 C810.7 1424.5 814.1 1421.0 816.2 1420.0 C818.3 1419.0 824.5 1420.3 826.2 1418.8 C827.9 1417.3 829.1 1411.9 830.0 1407.5 C830.9 1403.1 832.7 1386.5 833.8 1382.5 C834.9 1378.5 836.9 1375.2 838.8 1373.8 C840.7 1372.4 848.1 1373.5 850.0 1371.2 C851.9 1368.9 853.8 1359.9 855.0 1355.0 C856.2 1350.1 858.8 1335.7 860.0 1330.0 C861.2 1324.3 863.7 1312.0 865.0 1307.5 C866.3 1303.0 869.7 1295.8 871.2 1292.5 C872.7 1289.2 875.8 1282.7 877.5 1280.0 C879.2 1277.3 883.5 1273.0 885.0 1270.0 C886.5 1267.0 888.9 1259.2 890.0 1255.0 C891.1 1250.8 893.1 1238.9 893.8 1235.0 C894.5 1231.1 894.9 1225.0 896.2 1222.5 C897.5 1220.0 903.2 1216.5 905.0 1213.8 C906.8 1211.1 910.0 1203.2 911.2 1200.0 C912.4 1196.8 913.6 1189.8 915.0 1187.5 C916.4 1185.2 920.7 1182.7 922.5 1181.2 C924.3 1179.7 928.2 1176.0 930.0 1175.0 C931.8 1174.0 935.6 1172.4 937.5 1172.5 C939.4 1172.6 944.1 1175.0 946.2 1176.2 C948.3 1177.4 952.7 1182.0 955.0 1182.5 C957.3 1183.0 963.2 1179.1 965.0 1180.0 C966.8 1180.9 968.9 1187.0 970.0 1190.0 C971.1 1193.0 972.9 1201.4 973.8 1205.0 C974.7 1208.6 976.2 1217.0 977.5 1220.0 C978.8 1223.0 983.5 1226.7 985.0 1230.0 C986.5 1233.3 988.8 1242.7 990.0 1247.5 C991.2 1252.3 993.8 1264.9 995.0 1270.0 C996.2 1275.1 998.8 1285.5 1000.0 1290.0 C1001.2 1294.5 1003.8 1303.0 1005.0 1307.5 C1006.2 1312.0 1008.8 1322.4 1010.0 1327.5 C1011.2 1332.6 1013.8 1344.9 1015.0 1350.0 C1016.2 1355.1 1018.9 1365.2 1020.0 1370.0 C1021.1 1374.8 1022.9 1385.5 1023.8 1390.0 C1024.7 1394.5 1026.6 1403.3 1027.5 1407.5 C1028.4 1411.7 1030.4 1422.3 1031.2 1425.0 C1032.0 1427.7 1032.4 1428.2 1033.8 1430.0 C1035.2 1431.8 1040.7 1437.6 1042.5 1440.0 C1044.3 1442.4 1047.3 1447.0 1048.8 1450.0 C1050.3 1453.0 1053.7 1462.7 1055.0 1465.0 C1056.3 1467.3 1058.2 1468.0 1060.0 1469.2 C1061.8 1470.4 1067.6 1472.5 1069.6 1475.0 C1071.6 1477.5 1074.8 1487.2 1076.4 1490.4 C1078.0 1493.6 1081.3 1500.4 1083.1 1502.0 C1084.9 1503.6 1089.7 1503.8 1091.8 1503.9 C1093.9 1504.0 1098.5 1502.5 1100.5 1503.0 C1102.5 1503.5 1106.4 1506.5 1108.2 1507.8 C1110.0 1509.1 1113.8 1512.6 1115.9 1513.6 C1118.0 1514.6 1123.3 1516.2 1125.6 1516.5 C1127.9 1516.8 1133.2 1516.6 1135.2 1516.5 C1137.2 1516.4 1140.8 1516.3 1142.0 1516.0 C1143.2 1515.7 1144.7 1514.3 1145.3 1513.6 C1145.9 1512.9 1146.7 1511.5 1147.3 1510.2 C1147.9 1508.9 1150.2 1503.9 1150.6 1503.0" fill="none" stroke="#0000ff" stroke-width="10" stroke-linejoin="round" stroke-linecap="butt" clip-path="url(#pc)"/>
<line x1="163" y1="2052.9" x2="1147" y2="1949.5" stroke="#ff0000" stroke-width="4.5" stroke-dasharray="25.1 25.15"/>
<path d="M160.0 2057.4 C160.7 2056.5 164.9 2051.8 166.2 2050.0 C167.5 2048.2 169.7 2043.8 171.2 2042.5 C172.7 2041.2 176.8 2038.5 178.8 2038.8 C180.8 2039.1 185.3 2044.6 187.5 2045.0 C189.7 2045.4 195.3 2043.7 197.5 2042.5 C199.7 2041.3 204.2 2038.0 206.2 2035.0 C208.2 2032.0 212.1 2024.1 213.8 2017.5 C215.5 2010.9 218.7 1986.2 220.0 1980.0 C221.3 1973.8 223.7 1965.9 225.0 1966.2 C226.3 1966.5 229.9 1975.4 231.2 1982.5 C232.5 1989.6 235.0 2018.1 236.2 2025.0 C237.4 2031.9 239.8 2038.3 241.2 2040.0 C242.6 2041.7 245.2 2038.3 247.5 2038.8 C249.8 2039.3 256.8 2042.8 260.0 2043.8 C263.2 2044.8 270.7 2048.6 273.8 2047.5 C276.9 2046.4 283.1 2035.9 286.2 2035.0 C289.3 2034.1 296.8 2040.3 300.0 2040.0 C303.2 2039.7 309.5 2033.6 312.5 2032.5 C315.5 2031.4 322.0 2031.0 325.0 2031.2 C328.0 2031.4 334.8 2033.2 337.5 2033.8 C340.2 2034.4 345.1 2036.5 347.5 2036.2 C349.9 2035.9 354.8 2032.7 357.5 2031.2 C360.2 2029.7 366.8 2026.5 370.0 2023.8 C373.2 2021.1 380.8 2011.4 383.8 2008.8 C386.8 2006.2 392.5 2003.9 395.0 2002.5 C397.5 2001.1 402.3 1997.9 405.0 1997.5 C407.7 1997.1 415.1 1999.7 417.5 1998.8 C419.9 1997.9 422.9 1991.8 425.0 1990.0 C427.1 1988.2 433.1 1984.3 435.0 1983.8 C436.9 1983.3 439.4 1987.0 441.2 1986.2 C443.0 1985.4 447.7 1979.4 450.0 1977.5 C452.3 1975.6 457.5 1970.9 460.0 1970.0 C462.5 1969.1 468.8 1969.4 471.2 1970.0 C473.6 1970.6 478.0 1973.7 480.0 1975.0 C482.0 1976.3 485.1 1980.5 487.5 1981.2 C489.9 1981.9 497.3 1981.3 500.0 1981.2 C502.7 1981.1 507.6 1979.2 510.0 1980.0 C512.4 1980.8 517.6 1985.8 520.0 1987.5 C522.4 1989.2 527.7 1992.4 530.0 1993.8 C532.3 1995.2 536.4 1999.4 538.8 1998.8 C541.2 1998.2 547.5 1990.5 550.0 1988.8 C552.5 1987.1 557.9 1984.9 560.0 1985.0 C562.1 1985.1 565.4 1987.9 567.5 1990.0 C569.6 1992.1 575.1 2001.8 577.5 2002.5 C579.9 2003.2 585.1 1996.8 587.5 1996.2 C589.9 1995.6 595.1 1998.2 597.5 1997.5 C599.9 1996.8 605.1 1991.2 607.5 1990.0 C609.9 1988.8 615.1 1988.2 617.5 1987.5 C619.9 1986.8 625.3 1984.4 627.5 1983.8 C629.7 1983.2 633.8 1981.5 636.2 1982.5 C638.6 1983.5 645.2 1992.8 647.5 1992.5 C649.8 1992.2 653.0 1983.0 655.0 1980.0 C657.0 1977.0 661.4 1968.6 663.8 1967.5 C666.2 1966.4 672.6 1971.6 675.0 1971.2 C677.4 1970.8 681.1 1963.5 683.8 1963.8 C686.5 1964.1 695.0 1974.0 697.5 1973.8 C700.0 1973.6 703.2 1965.2 705.0 1962.5 C706.8 1959.8 710.6 1952.0 712.5 1951.2 C714.4 1950.4 718.8 1956.9 721.2 1956.2 C723.6 1955.5 730.2 1946.9 732.5 1945.0 C734.8 1943.1 738.2 1942.4 740.0 1940.0 C741.8 1937.6 745.7 1928.0 747.5 1925.0 C749.3 1922.0 753.2 1917.4 755.0 1915.0 C756.8 1912.6 760.7 1907.1 762.5 1905.0 C764.3 1902.9 768.2 1899.6 770.0 1897.5 C771.8 1895.4 775.7 1889.6 777.5 1887.5 C779.3 1885.4 783.5 1882.1 785.0 1880.0 C786.5 1877.9 788.8 1873.0 790.0 1870.0 C791.2 1867.0 793.8 1858.3 795.0 1855.0 C796.2 1851.7 798.7 1844.6 800.0 1842.5 C801.3 1840.4 804.7 1839.6 806.2 1837.5 C807.7 1835.4 811.1 1828.9 812.5 1825.0 C813.9 1821.1 816.1 1809.8 817.5 1805.0 C818.9 1800.2 822.3 1789.5 823.8 1785.0 C825.3 1780.5 828.7 1771.4 830.0 1767.5 C831.3 1763.6 833.9 1756.7 835.0 1752.5 C836.1 1748.3 837.9 1737.3 838.8 1732.5 C839.7 1727.7 841.6 1717.3 842.5 1712.5 C843.4 1707.7 845.0 1697.9 846.2 1692.5 C847.4 1687.1 851.1 1673.2 852.5 1667.5 C853.9 1661.8 856.3 1650.4 857.5 1645.0 C858.7 1639.6 861.3 1627.9 862.5 1622.5 C863.7 1617.1 866.3 1605.4 867.5 1600.0 C868.7 1594.6 871.5 1582.9 872.5 1577.5 C873.5 1572.1 875.3 1561.0 876.2 1555.0 C877.1 1549.0 879.2 1533.5 880.0 1527.5 C880.8 1521.5 881.9 1510.4 882.5 1505.0 C883.1 1499.6 884.2 1488.2 885.0 1482.5 C885.8 1476.8 887.9 1462.6 888.8 1457.5 C889.7 1452.4 891.5 1444.0 892.5 1440.0 C893.5 1436.0 896.7 1426.2 897.5 1423.8 C898.3 1421.4 897.9 1424.1 898.8 1420.0 C899.7 1415.9 903.7 1396.6 905.0 1390.0 C906.3 1383.4 908.8 1371.0 910.0 1365.0 C911.2 1359.0 913.8 1346.0 915.0 1340.0 C916.2 1334.0 919.1 1320.1 920.0 1315.0 C920.9 1309.9 921.6 1300.2 922.5 1297.5 C923.4 1294.8 926.0 1293.1 927.5 1292.5 C929.0 1291.9 933.5 1293.4 935.0 1292.5 C936.5 1291.6 938.9 1287.2 940.0 1285.0 C941.1 1282.8 942.3 1274.9 943.8 1273.8 C945.3 1272.7 950.3 1275.5 952.5 1276.2 C954.7 1276.9 960.9 1278.3 962.5 1280.0 C964.1 1281.7 965.3 1286.7 966.2 1290.0 C967.1 1293.3 968.9 1302.7 970.0 1307.5 C971.1 1312.3 973.8 1324.9 975.0 1330.0 C976.2 1335.1 978.8 1344.6 980.0 1350.0 C981.2 1355.4 983.2 1366.0 985.0 1375.0 C986.8 1384.0 993.5 1416.0 995.0 1425.0 C996.5 1434.0 996.9 1444.0 997.5 1450.0 C998.1 1456.0 999.2 1468.4 1000.0 1475.0 C1000.8 1481.6 1002.9 1497.8 1003.8 1505.0 C1004.7 1512.2 1006.6 1527.8 1007.5 1535.0 C1008.4 1542.2 1010.3 1557.8 1011.2 1565.0 C1012.1 1572.2 1013.9 1587.8 1015.0 1595.0 C1016.1 1602.2 1018.9 1617.8 1020.0 1625.0 C1021.1 1632.2 1022.9 1648.4 1023.8 1655.0 C1024.7 1661.6 1026.6 1673.7 1027.5 1680.0 C1028.4 1686.3 1030.3 1700.9 1031.2 1707.5 C1032.1 1714.1 1034.1 1728.7 1035.0 1735.0 C1035.9 1741.3 1037.8 1754.3 1038.8 1760.0 C1039.8 1765.7 1042.2 1777.4 1043.2 1782.5 C1044.2 1787.6 1046.5 1797.7 1047.5 1802.5 C1048.5 1807.3 1050.7 1818.0 1051.5 1822.5 C1052.3 1827.0 1053.9 1835.5 1054.5 1840.0 C1055.1 1844.5 1056.0 1856.1 1056.8 1860.0 C1057.6 1863.9 1059.6 1870.4 1061.5 1872.5 C1063.4 1874.6 1070.6 1875.4 1072.5 1877.5 C1074.4 1879.6 1076.3 1886.7 1077.5 1890.0 C1078.7 1893.3 1080.6 1901.3 1082.2 1904.8 C1083.8 1908.3 1088.9 1915.7 1090.9 1919.3 C1092.9 1922.9 1097.0 1932.5 1098.6 1934.7 C1100.2 1936.9 1102.9 1937.5 1104.4 1937.6 C1105.9 1937.7 1109.6 1935.2 1111.1 1935.7 C1112.6 1936.2 1115.5 1940.1 1116.9 1941.5 C1118.3 1942.9 1121.0 1947.0 1122.7 1947.3 C1124.4 1947.6 1129.7 1944.5 1131.4 1944.4 C1133.1 1944.3 1135.8 1946.3 1137.1 1946.8 C1138.4 1947.3 1141.1 1948.1 1142.0 1948.7 C1142.9 1949.3 1144.3 1951.1 1144.9 1952.1 C1145.5 1953.1 1146.5 1955.1 1147.3 1956.9 C1148.1 1958.7 1151.1 1966.2 1151.6 1967.5" fill="none" stroke="#ff0000" stroke-width="10" stroke-linejoin="round" stroke-linecap="butt" clip-path="url(#pc)"/>
<line x1="164.3" y1="2114.8" x2="1147" y2="2058.5" stroke="#000000" stroke-width="4.4" stroke-dasharray="25.1 25.15"/>
<path d="M160.0 2112.0 C161.2 2111.9 167.0 2111.4 170.0 2111.2 C173.0 2111.0 182.0 2110.9 185.0 2110.0 C188.0 2109.1 192.1 2104.7 195.0 2103.8 C197.9 2102.9 206.4 2104.2 208.8 2102.5 C211.2 2100.8 213.7 2096.3 215.0 2090.0 C216.3 2083.7 218.8 2056.5 220.0 2050.0 C221.2 2043.5 223.8 2036.2 225.0 2036.2 C226.2 2036.2 228.7 2043.2 230.0 2050.0 C231.3 2056.8 234.9 2085.6 236.2 2092.5 C237.5 2099.4 239.7 2105.4 241.2 2107.5 C242.7 2109.6 246.2 2110.4 248.8 2110.0 C251.4 2109.6 259.1 2104.3 262.5 2103.8 C265.9 2103.3 274.2 2106.4 277.5 2106.2 C280.8 2106.0 286.7 2102.8 290.0 2102.5 C293.3 2102.2 302.3 2104.4 305.0 2103.8 C307.7 2103.2 310.7 2098.9 312.5 2097.5 C314.3 2096.1 318.2 2092.2 320.0 2092.5 C321.8 2092.8 325.7 2099.0 327.5 2100.0 C329.3 2101.0 332.6 2102.4 335.0 2101.2 C337.4 2100.0 344.8 2091.5 347.5 2090.0 C350.2 2088.5 355.1 2088.8 357.5 2088.8 C359.9 2088.8 365.1 2091.4 367.5 2090.0 C369.9 2088.6 375.4 2079.3 377.5 2077.5 C379.6 2075.7 382.3 2075.6 385.0 2075.0 C387.7 2074.4 397.0 2074.6 400.0 2072.5 C403.0 2070.4 407.7 2059.7 410.0 2057.5 C412.3 2055.3 416.4 2054.1 418.8 2053.8 C421.2 2053.5 427.3 2054.1 430.0 2055.0 C432.7 2055.9 438.3 2061.5 441.2 2061.2 C444.1 2060.9 450.9 2052.9 453.8 2052.5 C456.7 2052.1 462.5 2056.9 465.0 2057.5 C467.5 2058.1 472.5 2056.6 475.0 2057.5 C477.5 2058.4 483.2 2063.8 486.2 2065.0 C489.2 2066.2 496.8 2067.2 500.0 2067.5 C503.2 2067.8 509.5 2066.6 512.5 2067.5 C515.5 2068.4 522.3 2073.4 525.0 2075.0 C527.7 2076.6 532.3 2081.9 535.0 2081.2 C537.7 2080.5 544.5 2069.7 547.5 2068.8 C550.5 2067.9 557.2 2074.0 560.0 2073.8 C562.8 2073.6 568.5 2066.8 571.2 2067.5 C573.9 2068.2 579.9 2079.6 582.5 2080.0 C585.1 2080.4 590.1 2071.5 592.5 2071.2 C594.9 2070.9 600.4 2077.9 602.5 2077.5 C604.6 2077.1 608.2 2069.5 610.0 2067.5 C611.8 2065.5 615.2 2061.0 617.5 2061.2 C619.8 2061.4 626.1 2069.4 628.8 2068.8 C631.5 2068.2 637.6 2057.4 640.0 2056.2 C642.4 2055.0 646.7 2059.1 648.8 2058.8 C650.9 2058.5 655.3 2053.5 657.5 2053.8 C659.7 2054.1 665.1 2061.4 667.5 2061.2 C669.9 2061.0 675.1 2054.3 677.5 2052.5 C679.9 2050.7 685.4 2047.4 687.5 2046.2 C689.6 2045.0 692.9 2043.1 695.0 2042.5 C697.1 2041.9 702.6 2042.6 705.0 2041.2 C707.4 2039.8 712.9 2032.8 715.0 2031.2 C717.1 2029.6 720.7 2027.9 722.5 2027.5 C724.3 2027.1 728.0 2028.9 730.0 2027.5 C732.0 2026.1 736.4 2017.6 738.8 2016.2 C741.2 2014.8 747.8 2017.2 750.0 2016.2 C752.2 2015.2 755.7 2010.3 757.5 2007.5 C759.3 2004.7 763.5 1996.1 765.0 1992.5 C766.5 1988.9 768.5 1980.2 770.0 1977.5 C771.5 1974.8 775.4 1971.2 777.5 1970.0 C779.6 1968.8 785.4 1969.3 787.5 1967.5 C789.6 1965.7 793.5 1959.2 795.0 1955.0 C796.5 1950.8 798.7 1937.9 800.0 1932.5 C801.3 1927.1 804.7 1914.5 806.2 1910.0 C807.7 1905.5 810.8 1898.9 812.5 1895.0 C814.2 1891.1 818.4 1881.4 820.0 1877.5 C821.6 1873.6 824.7 1867.0 826.2 1862.5 C827.7 1858.0 831.1 1845.4 832.5 1840.0 C833.9 1834.6 836.1 1823.2 837.5 1817.5 C838.9 1811.8 842.3 1797.9 843.8 1792.5 C845.3 1787.1 848.5 1777.6 850.0 1772.5 C851.5 1767.4 854.9 1755.7 856.2 1750.0 C857.5 1744.3 860.0 1730.7 861.2 1725.0 C862.4 1719.3 864.8 1707.6 866.2 1702.5 C867.6 1697.4 871.3 1687.3 872.5 1682.5 C873.7 1677.7 875.4 1667.3 876.2 1662.5 C877.0 1657.7 878.0 1647.6 878.8 1642.5 C879.6 1637.4 881.6 1625.4 882.5 1620.0 C883.4 1614.6 885.2 1602.0 886.2 1597.5 C887.2 1593.0 889.5 1585.8 891.2 1582.5 C892.9 1579.2 898.0 1572.2 900.0 1570.0 C902.0 1567.8 905.7 1565.3 907.5 1563.8 C909.3 1562.3 913.4 1559.6 915.0 1557.5 C916.6 1555.4 920.0 1548.0 921.2 1546.2 C922.4 1544.4 923.9 1541.7 925.0 1542.5 C926.1 1543.3 928.5 1550.4 930.0 1552.5 C931.5 1554.6 935.8 1559.8 937.5 1560.0 C939.2 1560.2 942.3 1553.8 943.8 1553.8 C945.3 1553.8 948.7 1558.4 950.0 1560.0 C951.3 1561.6 953.9 1564.5 955.0 1567.5 C956.1 1570.5 957.7 1580.5 958.8 1585.0 C959.9 1589.5 962.6 1600.2 963.8 1605.0 C965.0 1609.8 967.6 1619.9 968.8 1625.0 C970.0 1630.1 972.8 1642.1 973.8 1647.5 C974.8 1652.9 976.6 1664.3 977.5 1670.0 C978.4 1675.7 980.3 1689.0 981.2 1695.0 C982.1 1701.0 984.1 1714.6 985.0 1720.0 C985.9 1725.4 987.7 1735.5 988.8 1740.0 C989.9 1744.5 992.8 1753.0 993.8 1757.5 C994.8 1762.0 996.6 1772.7 997.5 1777.5 C998.4 1782.3 1000.2 1792.1 1001.2 1797.5 C1002.2 1802.9 1005.0 1816.5 1006.2 1822.5 C1007.4 1828.5 1009.7 1840.6 1011.2 1847.5 C1012.7 1854.4 1016.9 1873.1 1018.5 1880.0 C1020.1 1886.9 1023.1 1899.3 1024.5 1905.0 C1025.9 1910.7 1029.1 1922.1 1030.5 1927.5 C1031.9 1932.9 1035.1 1944.9 1036.5 1950.0 C1037.9 1955.1 1040.4 1965.7 1041.8 1970.0 C1043.2 1974.3 1046.1 1982.9 1048.0 1986.2 C1049.9 1989.5 1056.1 1995.7 1057.5 1997.5 C1058.9 1999.3 1058.5 1999.7 1060.0 2001.3 C1061.5 2002.9 1067.3 2007.7 1069.6 2010.9 C1071.9 2014.1 1077.0 2025.8 1079.3 2028.3 C1081.6 2030.8 1086.6 2031.2 1088.9 2032.1 C1091.2 2033.0 1096.5 2034.5 1098.6 2036.0 C1100.7 2037.5 1104.5 2042.9 1106.3 2044.6 C1108.1 2046.3 1112.0 2049.9 1114.0 2050.4 C1116.0 2050.9 1120.7 2048.2 1122.7 2048.5 C1124.7 2048.8 1128.7 2052.3 1130.4 2053.3 C1132.1 2054.3 1135.7 2056.8 1137.1 2057.2 C1138.5 2057.6 1141.0 2057.0 1142.0 2056.7 C1143.0 2056.4 1144.7 2054.9 1145.3 2054.3 C1145.9 2053.7 1146.5 2052.6 1147.3 2051.4 C1148.1 2050.2 1151.1 2045.4 1151.6 2044.6" fill="none" stroke="#000000" stroke-width="10" stroke-linejoin="round" stroke-linecap="butt" clip-path="url(#pc)"/>
<rect x="1201.9" y="520.4" width="887.9" height="1083.3" fill="#fff" stroke="#000" stroke-opacity="0.3" stroke-width="4.4"/>
<rect x="1201.9" y="520.4" width="887.9" height="1083.3" fill="none" stroke="#000" stroke-width="2.2"/>
<line x1="1217.5" y1="594.3" x2="1460" y2="594.3" stroke="#800000" stroke-width="11" stroke-linecap="round"/>
<g transform="translate(1489.6,631.6)"><text transform="translate(0.00,0) scale(1,1.041)" font-size="109" xml:space="preserve">GO-H2 </text><text transform="translate(375.49,0) scale(1,0.985)" font-size="109">reox</text></g>
<line x1="1217.5" y1="727.9" x2="1460" y2="727.9" stroke="#000080" stroke-width="11" stroke-linecap="round"/>
<g transform="translate(1489.6,765.2)"><text transform="translate(0.00,0) scale(1,1.041)" font-size="109">GO-H2</text></g>
<line x1="1217.5" y1="861.5" x2="1460" y2="861.5" stroke="#808000" stroke-width="11" stroke-linecap="round"/>
<g transform="translate(1489.6,898.8)"><text transform="translate(0.00,0) scale(1,1.041)" font-size="109" xml:space="preserve">GO-N2 </text><text transform="translate(375.49,0) scale(1,0.985)" font-size="109">reox</text></g>
<line x1="1217.5" y1="995.2" x2="1460" y2="995.2" stroke="#ff00ff" stroke-width="11" stroke-linecap="round"/>
<g transform="translate(1489.6,1032.5)"><text transform="translate(0.00,0) scale(1,1.041)" font-size="109">GO-N2</text></g>
<line x1="1217.5" y1="1128.8" x2="1460" y2="1128.8" stroke="#008080" stroke-width="11" stroke-linecap="round"/>
<g transform="translate(1489.6,1166.1)"><text transform="translate(0.00,0) scale(1,1.02)" font-size="109" xml:space="preserve">GO-air </text><text transform="translate(357.28,0) scale(1,0.985)" font-size="109">reox</text></g>
<line x1="1217.5" y1="1262.4" x2="1460" y2="1262.4" stroke="#0000ff" stroke-width="11" stroke-linecap="round"/>
<g transform="translate(1489.6,1299.7)"><text transform="translate(0.00,0) scale(1,1.02)" font-size="109">GO-air</text></g>
<line x1="1217.5" y1="1396.0" x2="1460" y2="1396.0" stroke="#ff0000" stroke-width="11" stroke-linecap="round"/>
<g transform="translate(1489.6,1433.3)"><text transform="translate(0.00,0) scale(1,1.02)" font-size="109">GO-ox</text></g>
<line x1="1217.5" y1="1529.6" x2="1460" y2="1529.6" stroke="#000000" stroke-width="11" stroke-linecap="round"/>
<g transform="translate(1489.6,1566.9)"><text transform="translate(0.00,0) scale(1,1.041)" font-size="109">GO</text></g>
<g transform="translate(362.8,2290.7)"><text transform="translate(-122.69,0) scale(1,1.03)" font-size="110.3">2400</text></g>
<g transform="translate(754.3,2290.7)"><text transform="translate(-122.69,0) scale(1,1.03)" font-size="110.3">2600</text></g>
<g transform="translate(1145.5,2290.7)"><text transform="translate(-122.69,0) scale(1,1.03)" font-size="110.3">2800</text></g>
<g transform="translate(176,2433.5)"><text transform="translate(0.00,0) scale(1,1.0)" font-size="118.8" xml:space="preserve">Raman </text><text transform="translate(415.97,0) scale(1,0.988)" font-size="118.8" xml:space="preserve">shift </text><text transform="translate(666.86,0) scale(1,0.985)" font-size="118.8">[cm</text><text transform="translate(860.73,-61.5) scale(1,0.55)" font-size="83">-</text><text transform="translate(885.87,-48.7) scale(1,1.041)" font-size="83">1</text><text transform="translate(930.33,0) scale(1,0.985)" font-size="118.8">]</text></g>
<g transform="translate(111.9,1381) rotate(-90)"><text transform="translate(0.00,0) scale(1,0.99)" font-size="118.8" xml:space="preserve">Intensity </text><text transform="translate(475.43,0) scale(1,0.985)" font-size="118.8">[a.u.]</text></g>
</svg></body></html>
